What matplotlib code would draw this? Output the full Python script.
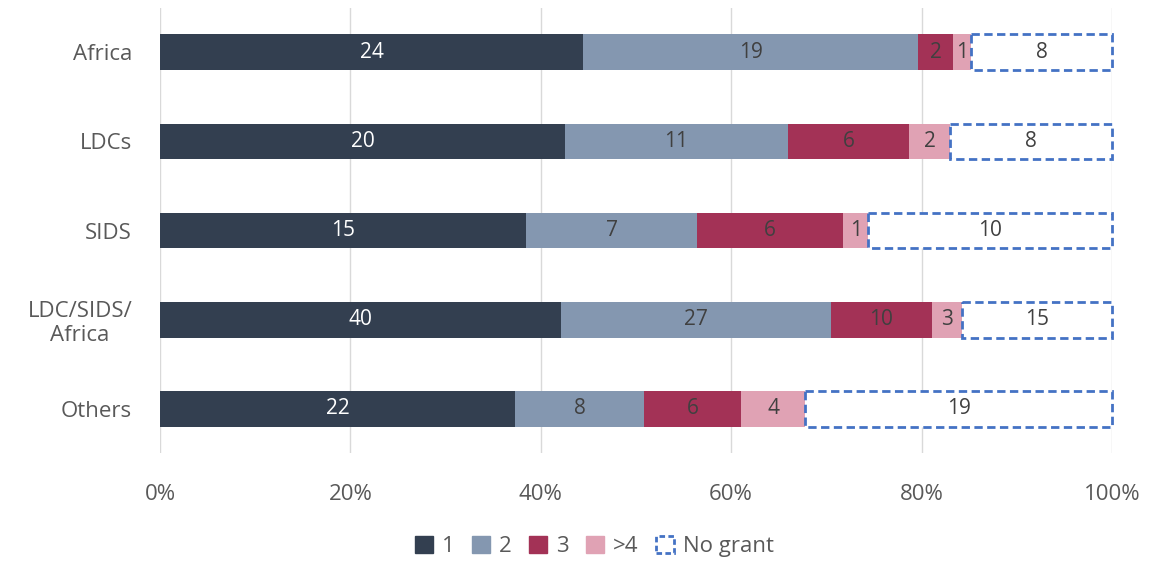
import matplotlib
matplotlib.use('Agg')
from matplotlib import pyplot as plt
import matplotlib.patches as patches
import numpy as np

plt.rcParams['font.family'] = ['Open Sans', 'DejaVu Sans']

regions = ['Africa', 'LDCs', 'SIDS', 'LDC/SIDS/\nAfrica', 'Others']
series_names = ['1', '2', '3', '>4', 'No grant']
one = [24, 20, 15, 40, 22]
two = [19, 11, 7, 27, 8]
three = [2, 6, 6, 10, 6]
more = [1, 2, 1, 3, 4]
no_grant = [8, 8, 10, 15, 19]

colors = ['#333F50', '#8497B0', '#A33256', '#E0A2B4', 'white']
text_colors = ['white', '#404040', '#404040', '#404040', '#404040']
edge_blue = '#4472C4'

counts = np.array([one, two, three, more, no_grant], dtype=float)
shares = counts / counts.sum(axis=0) * 100

fig = plt.figure(figsize=(11.54, 5.63), dpi=100)
ax = fig.add_axes([0.1386, 0.1945, 0.825, 0.792])

y = np.arange(len(regions))
left = np.zeros(len(regions))
for i, name in enumerate(series_names):
    if name == 'No grant':
        bars = ax.barh(y, shares[i], left=left, height=0.4, color='white',
                       edgecolor=edge_blue, linestyle=(0, (3, 1.6)), linewidth=2,
                       zorder=3, clip_on=False)
    else:
        bars = ax.barh(y, shares[i], left=left, height=0.4, color=colors[i],
                       zorder=3)
    for j, b in enumerate(bars):
        ax.text(left[j] + shares[i][j] / 2, y[j], '%d' % counts[i][j],
                ha='center', va='center', fontsize=15, color=text_colors[i],
                zorder=4)
    left += shares[i]

ax.set_xlim(0, 100)
ax.set_ylim(len(regions) - 0.5, -0.5)
ax.set_xticks(np.arange(0, 101, 20))
ax.set_xticklabels(['%d%%' % v for v in range(0, 101, 20)])
ax.set_yticks(y)
ax.set_yticklabels(regions, multialignment='center')
ax.tick_params(axis='both', length=0, labelsize=16, colors='#595959')
ax.tick_params(axis='x', pad=22)
ax.tick_params(axis='y', pad=20)
ax.grid(axis='x', color='#D9D9D9', linewidth=1, zorder=0)
ax.set_axisbelow(True)
for s in ax.spines.values():
    s.set_visible(False)

handles = [patches.Patch(facecolor=c, edgecolor=c) for c in colors[:4]]
handles.append(patches.Patch(facecolor='white', edgecolor=edge_blue,
                             linestyle=(0, (2, 1.2)), linewidth=2))
fig.legend(handles, series_names, loc='lower center', ncol=5, frameon=False,
           bbox_to_anchor=(0.515, -0.025), fontsize=16, handlelength=0.8,
           handleheight=0.8, handletextpad=0.4, columnspacing=0.8,
           labelcolor='#595959')

fig.savefig('out.png', dpi=100)
